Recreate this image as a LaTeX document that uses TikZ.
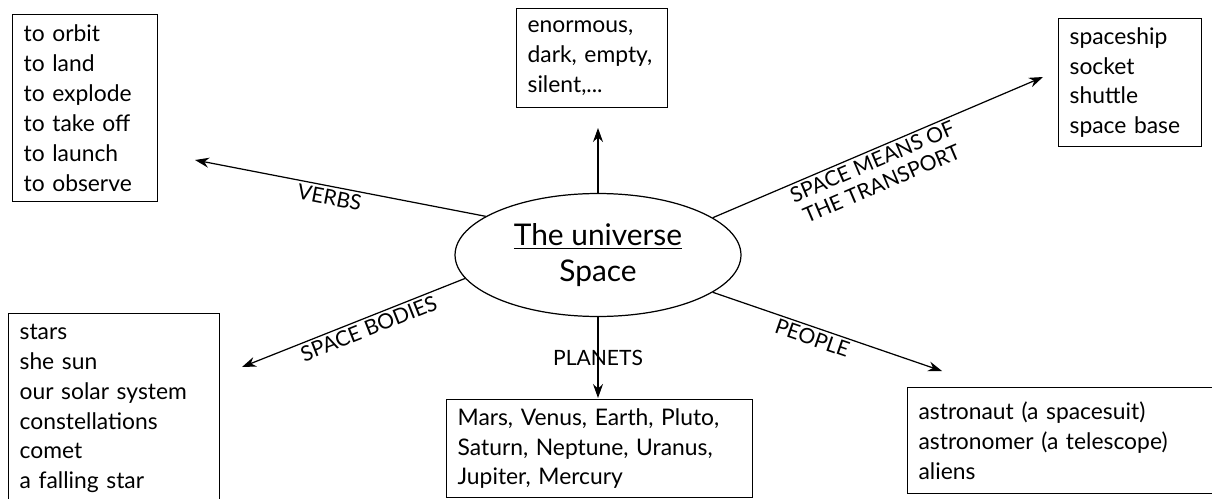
\documentclass[tikz,border=0pt]{standalone}
\usepackage{fontspec}
\setmainfont{Lato}
\usetikzlibrary{arrows.meta,shapes.geometric}

\begin{document}
\begin{tikzpicture}[x=0.02cm, y=0.02cm, line width=0.7pt,
    box/.style={draw, anchor=north west, align=left, inner xsep=0.22cm,
      font=\fontsize{13}{17}\selectfont},
    lbl/.style={font=\fontsize{12}{13.5}\selectfont, sloped, below, inner sep=1.5pt, align=center},
    arr/.style={-{Stealth[length=0.28cm, width=0.2cm]}}]
    \useasboundingbox (0,0) rectangle (1212,498);
    % Centre
    \node[draw, ellipse, minimum width=5.72cm, minimum height=2.46cm, inner sep=0pt,
          align=center, font=\fontsize{17}{20}\selectfont]
      (hub) at (598,243) {\underline{The universe}\\Space};
    % Word boxes
    \node[box, text width=2.46cm, minimum height=3.74cm] (verbs) at (12,484)
      {to orbit\\to land\\to explode\\to take off\\to launch\\to observe};
    \node[box, text width=2.58cm, minimum height=1.98cm] (adjs) at (516,490)
      {enormous,\\dark, empty,\\silent,...};
    \node[box, text width=2.42cm, minimum height=2.56cm] (transport) at (1058,480)
      {spaceship\\socket\\shuttle\\space base};
    \node[box, text width=3.78cm, minimum height=3.8cm] (bodies) at (8,185)
      {stars\\she sun\\our solar system\\constellations\\comet\\a falling star};
    \node[box, text width=5.68cm, minimum height=1.96cm] (planets) at (446,99)
      {Mars, Venus, Earth, Pluto,\\Saturn, Neptune, Uranus,\\Jupiter, Mercury};
    \node[box, text width=5.76cm, minimum height=2.12cm] (people) at (907,111)
      {astronaut (a spacesuit)\\astronomer (a telescope)\\aliens};
    % Arrow tips
    \coordinate (tipAdjs) at (598,370);
    \coordinate (tipVerbs) at (195,338);
    \coordinate (tipTransport) at (1043,421);
    \coordinate (tipBodies) at (242,131);
    \coordinate (tipPlanets) at (598,100);
    \coordinate (tipPeople) at (942,127);
    % Arrows
    \draw[arr] (hub.north) -- (tipAdjs);
    \draw[arr] (hub.161) -- node[lbl, pos=0.53] {VERBS} (tipVerbs);
    \draw[arr] (hub.18) -- node[lbl, pos=0.47] {SPACE MEANS OF\\THE TRANSPORT} (tipTransport);
    \draw[arr] (hub.190) -- node[lbl, pos=0.45] {SPACE BODIES} (tipBodies);
    \draw[arr] (hub.south) -- node[font=\fontsize{12}{13.5}\selectfont] {PLANETS} (tipPlanets);
    \draw[arr] (hub.342) -- node[lbl, pos=0.45] {PEOPLE} (tipPeople);
\end{tikzpicture}
\end{document}
